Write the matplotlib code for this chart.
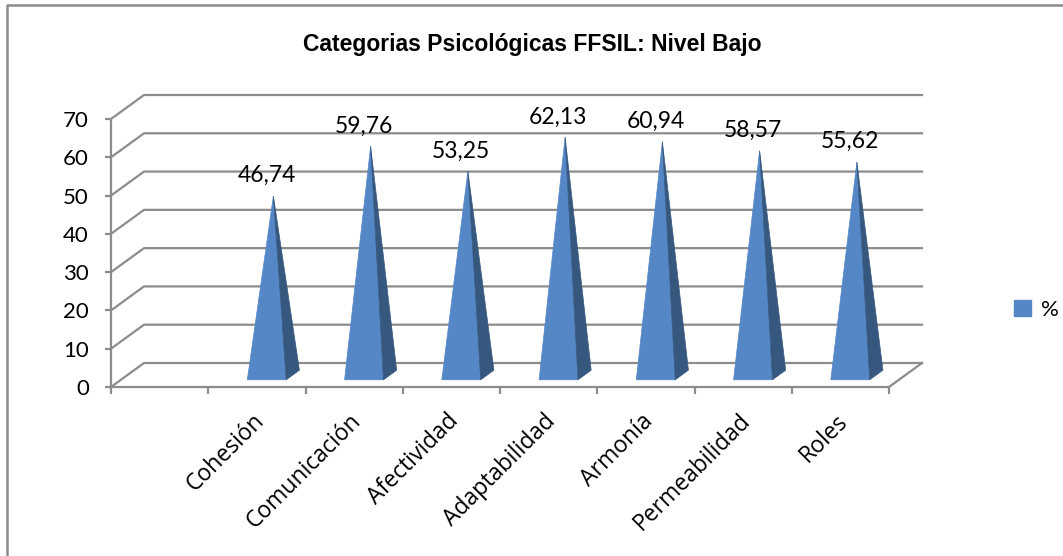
import numpy as np
import matplotlib
matplotlib.use('Agg')
import matplotlib.pyplot as plt
from matplotlib.patches import Polygon, Patch
from matplotlib.lines import Line2D

# datos del grafico
categorias = ['Cohesión', 'Comunicación', 'Afectividad', 'Adaptabilidad',
              'Armonía', 'Permeabilidad', 'Roles']
valores = [46.74, 59.76, 53.25, 62.13, 60.94, 58.57, 55.62]
etiquetas = ['46,74', '59,76', '53,25', '62,13', '60,94', '58,57', '55,62']
yticks = [0, 10, 20, 30, 40, 50, 60, 70]
titulo = 'Categorias Psicológicas FFSIL: Nivel Bajo'

W, H = 1063, 556
fig = plt.figure(figsize=(W / 100, H / 100), dpi=100)

# plano frontal: x de 111 a 889 px, y de 387 (0) a 119 (70) px
x0, x1, yb, yt = 111, 889, 387, 119
ax = fig.add_axes([x0 / W, (H - yb) / H, (x1 - x0) / W, (yb - yt) / H])
nslots = 8          # el primer hueco va vacio, como en el original
ax.set_xlim(0, nslots)
ax.set_ylim(0, 70)

px_x = (x1 - x0) / nslots
px_y = (yb - yt) / 70.0
DX = 33 / px_x      # profundidad en unidades de datos
DY = 24 / px_y

gris = '#8c8c8c'
lw = 1.6

# lineas de division (pared izquierda + pared del fondo)
for k in yticks:
    ax.add_line(Line2D([0, DX, nslots + DX], [k, k + DY, k + DY],
                       color=gris, lw=lw, clip_on=False, zorder=1))
# borde derecho del suelo
ax.add_line(Line2D([nslots, nslots + DX], [0, DY], color=gris, lw=lw,
                   clip_on=False, zorder=1))

# piramides
claro = '#5587c7'
oscuro = '#36587f'
w = 0.2
zf, zb, zc = 0.3, 0.7, 0.5
for i, v in enumerate(valores):
    xc = i + 1.5
    apex = (xc + zc * DX, v + zc * DY)
    fl = (xc - w + zf * DX, zf * DY)
    fr = (xc + w + zf * DX, zf * DY)
    br = (xc + w + zb * DX, zb * DY)
    ax.add_patch(Polygon([fl, fr, apex], closed=True, facecolor=claro,
                         edgecolor=claro, lw=0.5, clip_on=False, zorder=3))
    ax.add_patch(Polygon([fr, br, apex], closed=True, facecolor=oscuro,
                         edgecolor=oscuro, lw=0.5, clip_on=False, zorder=3))
    ax.text(apex[0] - 0.07, apex[1] + 3.6, etiquetas[i], ha='center',
            va='baseline', fontsize=16.5, family='Lato', color='black',
            zorder=4)

# ejes
for s in ['top', 'right']:
    ax.spines[s].set_visible(False)
for s in ['left', 'bottom']:
    ax.spines[s].set_color(gris)
    ax.spines[s].set_linewidth(lw)
ax.set_facecolor('none')
ax.set_yticks(yticks)
ax.set_yticklabels([str(t) for t in yticks], fontsize=16, family='Lato')
ax.tick_params(axis='y', length=4, width=lw, color=gris, pad=12)
ax.set_xticks(np.arange(nslots + 1))
ax.set_xticklabels([])
ax.tick_params(axis='x', length=5, width=lw, color=gris)

for i, c in enumerate(categorias):
    ax.text(i + 1.45, -5.8, c, rotation=45, rotation_mode='anchor',
            ha='right', va='top', fontsize=16.5, family='Open Sans')

fig.text(532 / W, 1 - 44 / H, titulo, ha='center', va='center',
         fontsize=16.5, fontweight='bold', family='Liberation Sans')

fig.legend(handles=[Patch(facecolor=claro, edgecolor=claro)], labels=['%'],
           loc='center left', bbox_to_anchor=(994 / W, 1 - 310 / H),
           frameon=False, handlelength=0.75, handleheight=0.75,
           handletextpad=0.45, prop={'family': 'Lato', 'size': 16})

# marco del grafico (solo se ven arriba e izquierda)
fig.add_artist(Line2D([7 / W, 7 / W, 1], [0, 1 - 5 / H, 1 - 5 / H],
                      transform=fig.transFigure, color=gris, lw=1.8))

fig.savefig('out.png', dpi=100)
